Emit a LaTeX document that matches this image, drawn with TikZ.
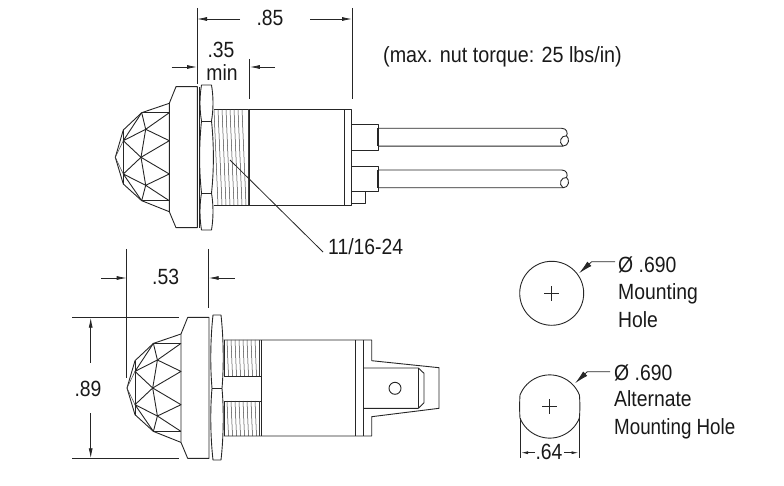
\documentclass[tikz,border=0pt]{standalone}
\usepackage{fontspec}
\setmainfont[FakeStretch=0.88]{Liberation Sans}
\usetikzlibrary{arrows.meta}
\tikzset{
  part/.style={line width=0.9pt,draw=black!85,line join=round},
  thin part/.style={line width=0.5pt,draw=black!75},
  dim/.style={line width=0.8pt,draw=black!85},
  dimarrow/.style={dim,-{Latex[length=10pt,width=4pt]}},
  smallarrow/.style={dim,-{Latex[length=7pt,width=3pt]}},
  leader/.style={dim,-{Latex[length=14pt,width=6pt]}},
  label/.style={font=\fontsize{22}{26}\selectfont,inner sep=0pt,text=black!90,text height=15.5pt,text depth=0pt},
  labelw/.style={label,anchor=west}
}
\newcommand{\lampdome}{%
  \coordinate (A1) at (169.3,103.3); \coordinate (A2) at (169.3,211.7);
  \coordinate (L) at (115.3,157.3);  \coordinate (C) at (141,157.3);
  \coordinate (Q1) at (123.3,140.7); \coordinate (Q2) at (123.3,174);
  \coordinate (P1) at (145.7,129.3); \coordinate (P2) at (145.7,185.3);
  \coordinate (R0) at (169.3,112.7); \coordinate (R1) at (169.3,140.7);
  \coordinate (R2) at (169.3,174);   \coordinate (R3) at (169.3,200.7);
  \draw[part] (169.3,103.3) -- (176,86.7) -- (197.3,86.7) -- (197.3,227.7) -- (176,227.7) -- (169.3,211.7) -- cycle;
  \draw[part] (169.3,103.3) -- (141.7,112.7) -- (123.3,130) -- (L) -- (123.3,184) -- (141.7,200.7) -- (169.3,211.7);
  \draw[part] (141.7,112.7) -- (R0) (141.7,200.7) -- (R3);
  \draw[part] (141.7,112.7) -- (P1) -- (C) -- (P2) -- (141.7,200.7);
  \draw[part] (123.3,130) -- (123.3,184);
  \draw[part] (141.7,112.7) -- (Q1) -- (P1) -- (R0) (P1) -- (R1) -- (C) -- (R2) -- (P2) -- (R3);
  \draw[part] (Q1) -- (C) -- (Q2) -- (P2) (Q2) -- (141.7,200.7);
  \draw[thin part] (L) -- (Q1) (L) -- (Q2);
}
\begin{document}
\begin{tikzpicture}[x=1pt,y=-1pt]
\useasboundingbox (0,0) rectangle (784,486);
% ---------- top view ----------
\lampdome
\draw[part] (199,87) -- (199,228);
\draw[part] (201.5,85) -- (211.5,85) .. controls (213.5,97) and (213.5,109) .. (211.5,121)
  .. controls (214,145) and (214,170) .. (211.5,193) .. controls (213.5,205) and (213.5,218) .. (211.5,230)
  -- (201.5,230) .. controls (199.5,218) and (199.5,205) .. (201.5,193)
  .. controls (199,170) and (199,145) .. (201.5,121) .. controls (199.5,109) and (199.5,97) .. (201.5,85) -- cycle;
\draw[part] (201.5,121) -- (211.5,121) (201.5,193) -- (211.5,193);
\draw[part] (213.5,109.5) -- (351.8,109.5) -- (351.8,205) -- (213.5,205);
\draw[part] (249.8,109.5) -- (249.8,205) (344,109.5) -- (344,205);
\foreach \x in {214,218,...,242}{\draw[thin part] (\x,109.5) -- (\x+4,205);}
\draw[thin part] (248.3,109.5) -- (248.3,205);
\draw[part] (351.8,124.3) -- (378,124.3) -- (378,150) -- (351.8,150);
\draw[part] (351.8,166.7) -- (378,166.7) -- (378,191.7) -- (351.8,191.7);
\draw[part] (365,191.7) -- (365,203.3) -- (351.8,203.3);
\draw[line width=1.3pt,draw=black!85] (378,128) -- (378,146) (378,170) -- (378,188);
\foreach \y in {128.3,170}{
  \draw[part] (378,\y) -- (561.7,\y) .. controls (567,\y) and (568,\y+5) .. (566.5,\y+7.5)
    .. controls (570,\y+10) and (569,\y+17.8) .. (563,\y+17.8) -- (378,\y+17.8);
  \draw[part] (566.5,\y+7.5) .. controls (561,\y+7) and (558,\y+14) .. (563,\y+17.8);
}
% ---------- dimensions top ----------
\node[label] (d85) at (270,18) {.85};
\coordinate (e85a) at (197,8);  \coordinate (e85af) at (197,84);
\coordinate (e85b) at (352,8);  \coordinate (e85bf) at (352,99);
\draw[dim] (e85a) -- (e85af) (e85b) -- (e85bf);
\coordinate (a85l) at (240,19); \coordinate (a85r) at (310,19);
\draw[dimarrow] (a85l) -- (197,19);
\draw[dimarrow] (a85r) -- (352,19);
\node[label] (d35) at (221,50) {.35};
\node[label] (dmin) at (222,73) {min};
\coordinate (e35) at (249.8,59);
\draw[dim] (e35) -- (249.8,99.5);
\draw[dimarrow] (171.5,67) -- (197,67);
\draw[dimarrow] (275,67) -- (249.8,67);
\node[labelw,xscale=1.02] (torque) at (383,55) {(max. nut torque: 25 lbs/in)};
\node[labelw] (thread) at (328,247) {11/16-24};
\coordinate (threadpt) at (230,160);
\coordinate (threadend) at (323,252);
\draw[dim] (threadpt) -- (threadend);
% ---------- bottom view ----------
\begin{scope}[shift={(11.7,230.7)}]
\lampdome
\end{scope}
\draw[part] (213,315) -- (221,315) .. controls (223.5,338) and (224,365) .. (222,388.3)
  .. controls (224,410) and (223.5,438) .. (221,460) -- (213,460)
  .. controls (210.5,438) and (210,410) .. (212,388.3) .. controls (210,365) and (210.5,338) .. (213,315) -- cycle;
\draw[part] (212,388.3) -- (222,388.3);
\draw[part] (224,340) -- (371.7,340) -- (371.7,360.7) -- (439,367.7) -- (439,408.3) -- (371.7,416.7) -- (371.7,436) -- (224,436);
\draw[part] (224,340) -- (224,376) (224,401) -- (224,436);
\draw[part] (224,376) -- (261.7,376) (224,401) -- (261.7,401);
\draw[part] (261.7,340) -- (261.7,436) (355.7,340) -- (355.7,436) (363.3,340) -- (363.3,436);
\foreach \x in {227,231,...,255}{
  \draw[thin part] (\x,340) -- (\x+1.5,376);
  \draw[thin part] (\x,401) -- (\x+1.5,436);
}
\draw[thin part] (259.5,340) -- (259.5,376) (259.5,401) -- (259.5,436);
\draw[part] (363.3,368) -- (418.3,368) -- (424,373.3) -- (424,402.7) -- (418.3,408.3) -- (363.3,408.3);
\draw[part] (418.3,368) -- (418.3,408.3);
\node[circle,draw=black!85,line width=0.9pt,minimum size=12pt,inner sep=0pt] (hole) at (395,388.3) {};
% ---------- dimensions bottom ----------
\node[label] (d53) at (165.7,277) {.53};
\draw[dim] (126.7,249) -- (126.7,377.7);
\draw[dim] (208.7,249) -- (208.7,307.7);
\draw[dimarrow] (101,278) -- (126.7,278);
\draw[dimarrow] (234.7,278) -- (208.7,278);
\node[label] (d89) at (88,389) {.89};
\draw[dim] (72,317.7) -- (179,317.7) (72,458.3) -- (179,458.3);
\draw[dimarrow] (90.7,362.7) -- (90.7,317.7);
\draw[dimarrow] (90.7,413) -- (90.7,458.3);
% ---------- holes ----------
\node[circle,draw=black!85,line width=0.9pt,minimum size=64pt,inner sep=0pt] (hole1) at (551.7,293.3) {};
\draw[dim] (544,293.3) -- (559.4,293.3) (551.7,286) -- (551.7,301);
\node[labelw] (h1a) at (618,265) {Ø .690};
\node[labelw] (h1b) at (618,291.7) {Mounting};
\node[labelw] (h1c) at (618,320) {Hole};
\coordinate (h1tip) at (579,273.3);
\draw[leader] ([yshift=3.3pt,xshift=-3pt]h1a.west) -- (591.7,261.7) -- (h1tip);
\draw[part] (520,395) arc[start angle=-158.2,end angle=-21.8,radius=32] .. controls (580,402) and (580,411) .. (579.4,418)
  arc[start angle=21.8,end angle=158.2,radius=32] .. controls (519.5,411) and (519.5,402) .. (520,395);
\draw[dim] (542,406.7) -- (557.4,406.7) (549.7,399) -- (549.7,414.4);
\node[labelw] (h2a) at (614,373) {Ø .690};
\node[labelw] (h2b) at (614,399) {Alternate};
\node[labelw,xscale=0.97] (h2c) at (614,427) {Mounting Hole};
\coordinate (h2tip) at (575,383.3);
\draw[leader] ([yshift=1.3pt,xshift=-4pt]h2a.west) -- (587.3,371.7) -- (h2tip);
\node[label] (d64) at (549,452) {.64};
\draw[dim] (520,418) -- (520,458) (579.3,418) -- (579.3,458);
\draw[smallarrow] (535,452.7) -- (521,452.7);
\draw[smallarrow] (564,452.7) -- (578.5,452.7);
\end{tikzpicture}
\end{document}
